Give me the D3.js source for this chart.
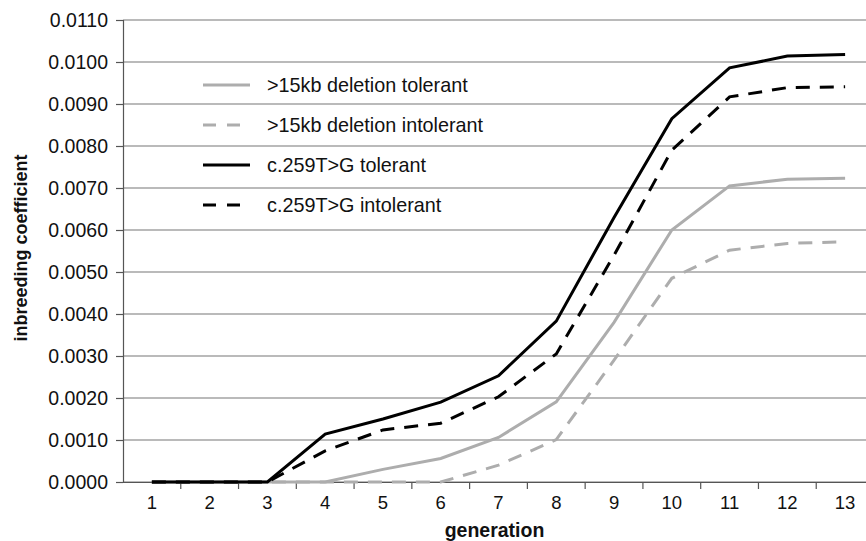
<!DOCTYPE html>
<html lang="en">
  <head>
    <meta charset="UTF-8" />
    <title>inbreeding coefficient by generation</title>
    <style>
      body { margin: 0; background: #fff; }
      svg { display: block; font-family: "Liberation Sans", Arial, sans-serif; }
    </style>
  </head>
  <body>
    <script src="https://d3js.org/d3.v7.min.js"></script>
    <script>
      const width = 866
      const height = 541

      // data
      const generations = [1, 2, 3, 4, 5, 6, 7, 8, 9, 10, 11, 12, 13]
      const delTolerant = [0, 0, 0, 0, 0.0003, 0.00056, 0.00106, 0.00191, 0.0038, 0.006, 0.00705, 0.00721, 0.00723]
      const delIntolerant = [0, 0, 0, 0, 0, 0, 0.0004, 0.00101, 0.0029, 0.00485, 0.00552, 0.00568, 0.00572]
      const cTolerant = [0, 0, 0, 0.00114, 0.0015, 0.0019, 0.00253, 0.00383, 0.0063, 0.00865, 0.00986, 0.01014, 0.01018]
      const cIntolerant = [0, 0, 0, 0.00074, 0.00124, 0.0014, 0.00203, 0.00305, 0.0054, 0.0079, 0.00917, 0.00939, 0.00941]
      const yTicks = [0, 0.001, 0.002, 0.003, 0.004, 0.005, 0.006, 0.007, 0.008, 0.009, 0.01, 0.011]

      const seriesNames = [">15kb deletion tolerant", ">15kb deletion intolerant", "c.259T>G tolerant", "c.259T>G intolerant"]
      const seriesValues = [delTolerant, delIntolerant, cTolerant, cIntolerant]
      const seriesColor = ["#adadad", "#adadad", "#000", "#000"]
      const seriesDash = [null, "14,10", null, "14,10"]

      const plotLeft = 123, plotRight = 874, plotTop = 20, plotBottom = 482

      const svg = d3.select("body").append("svg")
        .attr("width", width)
        .attr("height", height)

      const x = d3.scaleBand().domain(generations).range([plotLeft, plotRight]).padding(0)
      const y = d3.scaleLinear().domain([0, 0.011]).range([plotBottom, plotTop])

      // grid lines
      svg.append("g")
        .selectAll("line")
        .data(yTicks)
        .join("line")
        .attr("x1", plotLeft)
        .attr("x2", plotRight)
        .attr("y1", d => y(d))
        .attr("y2", d => y(d))
        .attr("stroke", "#767676")
        .attr("stroke-width", 1.2)

      // y axis
      const yAxis = svg.append("g")
        .attr("transform", `translate(${plotLeft},0)`)
        .call(d3.axisLeft(y).tickValues(yTicks).tickFormat(d3.format(".4f")).tickSize(7).tickPadding(8))
      yAxis.select(".domain").attr("stroke", "#555").attr("stroke-width", 1.2)
      yAxis.selectAll(".tick line").attr("stroke", "#555").attr("stroke-width", 1.2)
      yAxis.selectAll("text").attr("font-size", 19.5).attr("fill", "#111").attr("font-family", "Liberation Sans, Arial, sans-serif")

      // x axis: labels in band centres, ticks on band edges
      const xAxis = svg.append("g")
        .attr("transform", `translate(0,${plotBottom})`)
        .call(d3.axisBottom(x).tickSize(0).tickPadding(14))
      xAxis.select(".domain").attr("stroke", "#555").attr("stroke-width", 1.2)
      xAxis.selectAll("text").attr("font-size", 18.5).attr("fill", "#111").attr("font-family", "Liberation Sans, Arial, sans-serif")
      svg.append("g")
        .selectAll("line")
        .data(generations.slice(1).concat(["end"]))
        .join("line")
        .attr("x1", d => (d === "end" ? plotRight : x(d)))
        .attr("x2", d => (d === "end" ? plotRight : x(d)))
        .attr("y1", plotBottom)
        .attr("y2", plotBottom + 7)
        .attr("stroke", "#555")
        .attr("stroke-width", 1.2)

      // lines
      const line = d3.line()
        .x((d, i) => x(generations[i]) + x.bandwidth() / 2)
        .y(d => y(d))

      svg.append("g")
        .selectAll("path")
        .data(seriesValues)
        .join("path")
        .attr("d", d => line(d))
        .attr("fill", "none")
        .attr("stroke", (d, i) => seriesColor[i])
        .attr("stroke-width", 3)
        .attr("stroke-dasharray", (d, i) => seriesDash[i])

      // legend
      const legend = svg.append("g")
        .selectAll("g")
        .data(seriesNames)
        .join("g")
        .attr("transform", (d, i) => `translate(203,${85 + i * 40})`)
      legend.append("line")
        .attr("x1", 0)
        .attr("x2", 47)
        .attr("stroke", (d, i) => seriesColor[i])
        .attr("stroke-width", 3)
        .attr("stroke-dasharray", (d, i) => seriesDash[i] ? "13,11" : null)
      legend.append("text")
        .attr("x", 64)
        .attr("dy", "0.35em")
        .attr("font-size", 19.8)
        .attr("fill", "#111")
        .text(d => d)

      // axis titles
      svg.append("text")
        .attr("x", (plotLeft + 866) / 2)
        .attr("y", 537)
        .attr("text-anchor", "middle")
        .attr("font-size", 19.5)
        .attr("font-weight", "bold")
        .attr("fill", "#111")
        .text("generation")

      svg.append("text")
        .attr("transform", "translate(27,248) rotate(-90)")
        .attr("text-anchor", "middle")
        .attr("font-size", 18)
        .attr("font-weight", "bold")
        .attr("fill", "#111")
        .text("inbreeding coefficient")
    </script>
  </body>
</html>
